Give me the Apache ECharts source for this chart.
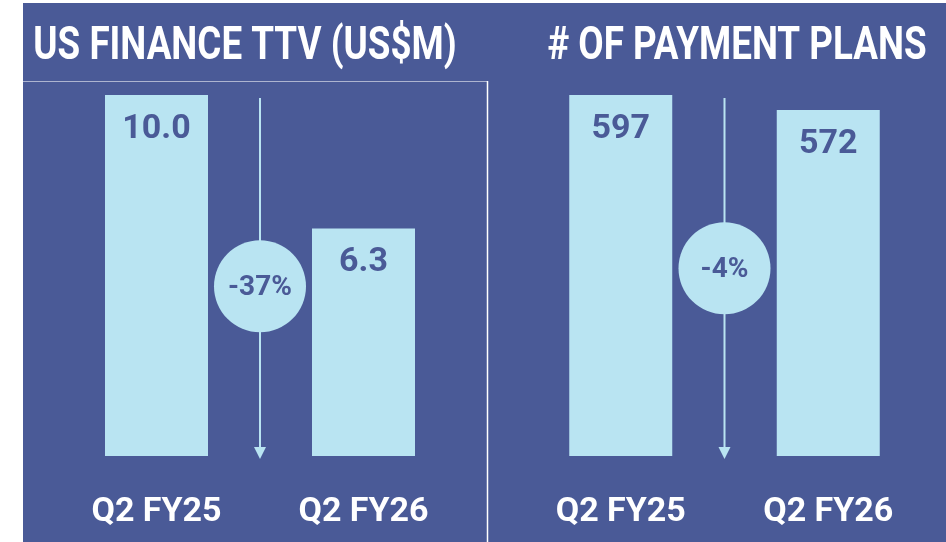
<!DOCTYPE html>
<html>
<head>
<meta charset="utf-8">
<script src="https://cdn.jsdelivr.net/npm/echarts@6/dist/echarts.min.js"></script>
<style>
html, body { margin: 0; padding: 0; background: #fff; }
#chart { width: 946px; height: 542px; }
</style>
</head>
<body>
<div id="chart"></div>
<script>
// data
var quarters = ['Q2 FY25', 'Q2 FY26'];
var ttvValues = [10.0, 6.3];
var planValues = [597, 572];
var panelTitles = ['US FINANCE TTV (US$M)', '# OF PAYMENT PLANS'];

var NAVY = '#4a5a97';
var ICE = '#b9e4f2';
var FONT = "Roboto, 'Noto Sans', sans-serif";

function pctChange(vals) {
    return Math.round((vals[1] - vals[0]) / vals[0] * 100) + '%';
}

var chart = echarts.init(document.getElementById('chart'));

function axisX(i) {
    return {
        type: 'category', gridIndex: i, data: quarters,
        axisLine: { show: false }, axisTick: { show: false },
        axisLabel: {
            interval: 0, color: '#fff', fontFamily: FONT, fontWeight: 'bold',
            fontSize: 34, lineHeight: 34, margin: 39
        }
    };
}
function axisY(i) {
    return { type: 'value', gridIndex: i, min: 0, max: 'dataMax', show: false, splitLine: { show: false } };
}
function bars(i, vals, fmt) {
    return {
        type: 'bar', xAxisIndex: i, yAxisIndex: i, data: vals,
        barWidth: 103,
        itemStyle: { color: ICE },
        label: {
            show: true, position: 'insideTop', distance: 17,
            color: NAVY, fontFamily: FONT, fontWeight: 'bold', fontSize: 34,
            formatter: fmt
        }
    };
}

chart.setOption({
    backgroundColor: '#fff',
    animation: false,
    grid: [
        { left: 53, right: 479, top: 95, bottom: 86 },
        { left: 517, right: 14, top: 95, bottom: 86 }
    ],
    xAxis: [axisX(0), axisX(1)],
    yAxis: [axisY(0), axisY(1)],
    series: [
        bars(0, ttvValues, function (p) { return p.value.toFixed(1); }),
        bars(1, planValues, function (p) { return p.value; })
    ]
});

// panel, frame, titles, arrows and change badges
var graphics = [
    { type: 'rect', z: -100, shape: { x: 23, y: 3, width: 923, height: 539 }, style: { fill: NAVY } },
    { type: 'line', z: -90, shape: { x1: 23, y1: 81.5, x2: 487.5, y2: 81.5 }, style: { stroke: 'rgba(255,255,255,0.55)', lineWidth: 1 } },
    { type: 'line', z: -90, shape: { x1: 487.5, y1: 81, x2: 487.5, y2: 542 }, style: { stroke: '#fff', lineWidth: 1.5 } }
];
[245, 737].forEach(function (cx, i) {
    graphics.push({
        type: 'text', z: 20, x: cx, y: 47, scaleX: 0.8,
        style: { text: panelTitles[i], x: 0, y: 0, align: 'center', verticalAlign: 'middle',
                 fill: '#fff', font: 'bold 46px ' + FONT }
    });
});
var badgeDrop = [0.53, 0.48];
[ttvValues, planValues].forEach(function (vals, i) {
    var x = (chart.convertToPixel({ xAxisIndex: i }, 0) + chart.convertToPixel({ xAxisIndex: i }, 1)) / 2;
    var top = chart.convertToPixel({ yAxisIndex: i }, Math.max.apply(null, vals));
    var base = chart.convertToPixel({ yAxisIndex: i }, 0);
    var cy = top + (base - top) * badgeDrop[i];
    graphics.push(
        { type: 'line', z: 10, shape: { x1: x, y1: top + 3, x2: x, y2: base - 8 }, style: { stroke: ICE, lineWidth: 2 } },
        { type: 'polygon', z: 10, shape: { points: [[x - 6, base - 9], [x + 6, base - 9], [x, base + 3]] }, style: { fill: ICE } },
        { type: 'circle', z: 11, shape: { cx: x, cy: cy, r: 46 }, style: { fill: ICE } },
        { type: 'text', z: 12, style: {
            text: pctChange(vals), x: x, y: cy + 2, align: 'center', verticalAlign: 'middle',
            fill: NAVY, font: 'bold 28px ' + FONT
        } }
    );
});
chart.setOption({ graphic: graphics });
</script>
</body>
</html>
